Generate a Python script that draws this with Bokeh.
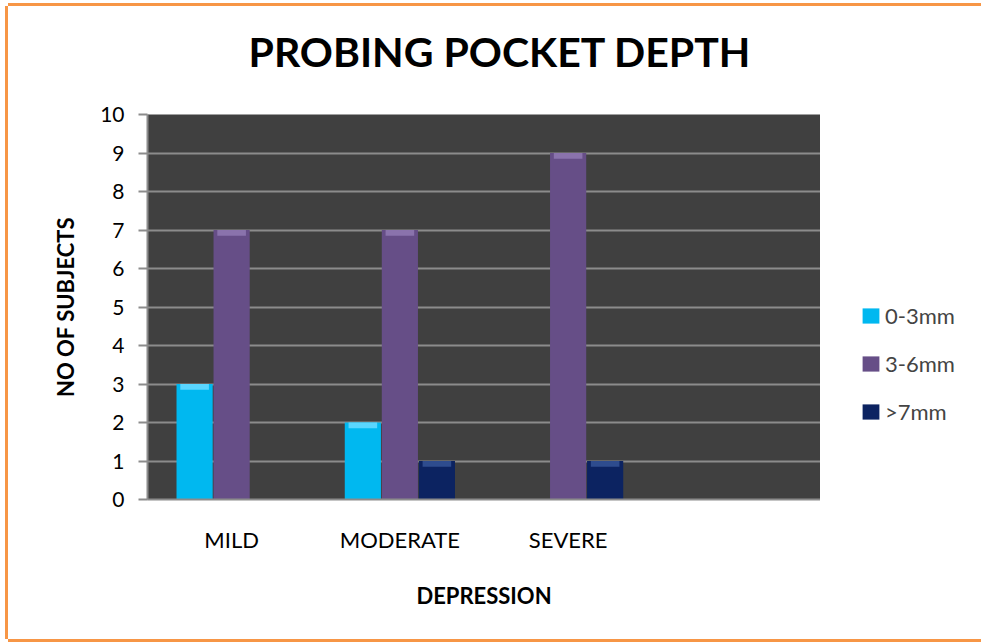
from bokeh.plotting import figure
from bokeh.models import FactorRange, Range1d, FixedTicker, Legend, LegendItem, ColumnDataSource, Title
from bokeh.layouts import row
from bokeh.transform import dodge
from bokeh.embed import file_html
from bokeh.resources import INLINE

categories = ["MILD", "MODERATE", "SEVERE"]
series = ["0-3mm", "3-6mm", ">7mm"]
v_0_3mm = [3, 2, 0]
v_3_6mm = [7, 7, 9]
v_7mm = [0, 1, 1]
colors = ["#00B8F0", "#664E87", "#0C2361"]
bevel_colors = ["#5AD6FF", "#8A73AC", "#2E4C8E"]
y_ticks = [0, 1, 2, 3, 4, 5, 6, 7, 8, 9, 10]

FONT = "Lato"
factors = categories + [" "]
BEVEL = 0.15  # depth of the lighter top facet, in axis units

p = figure(width=812, height=633, x_range=FactorRange(factors=factors), y_range=Range1d(0, 10),
           output_backend="svg", toolbar_location=None,
           min_border_left=139, min_border_right=0, min_border_top=108, min_border_bottom=140)

data = dict(cat=categories, a=v_0_3mm, b=v_3_6mm, c=v_7mm)
for k, vals in (("a", v_0_3mm), ("b", v_3_6mm), ("c", v_7mm)):
    data[k + "_bev"] = [v - BEVEL if v > 0 else 0 for v in vals]
src = ColumnDataSource(data)
offsets = [-0.22, 0.0, 0.22]
for key, off, col, bcol in zip(["a", "b", "c"], offsets, colors, bevel_colors):
    p.vbar(x=dodge("cat", off, range=p.x_range), top=key, width=0.215, source=src,
           fill_color=col, line_color=None)
    p.vbar(x=dodge("cat", off, range=p.x_range), top=key, bottom=key + "_bev", width=0.17,
           source=src, fill_color=bcol, line_color=None)

p.background_fill_color = "#404040"
p.border_fill_color = "white"
p.outline_line_color = None
p.xgrid.grid_line_color = None
p.ygrid.grid_line_color = "#8C8C8C"
p.ygrid.grid_line_width = 2

# spacer between plot area and title (placed nearest the frame)
p.add_layout(Title(text=" ", text_font_size="10px", standoff=21), "above")

p.title.text = "PROBING POCKET DEPTH"
p.title.align = "left"
p.title.offset = 101
p.title.standoff = 10
p.title.text_font = FONT
p.title.text_font_style = "bold"
p.title.text_font_size = "41px"
p.title.text_color = "black"

p.yaxis.ticker = FixedTicker(ticks=y_ticks)
p.yaxis.axis_line_color = "#8C8C8C"
p.yaxis.axis_line_width = 2
p.yaxis.major_tick_line_color = "#8C8C8C"
p.yaxis.major_tick_line_width = 2
p.yaxis.major_tick_out = 9
p.yaxis.major_tick_in = 0
p.yaxis.minor_tick_line_color = None
p.yaxis.major_label_standoff = 14
p.yaxis.major_label_text_font = FONT
p.yaxis.major_label_text_font_size = "21px"
p.yaxis.major_label_text_color = "black"
p.yaxis.axis_label = "NO OF SUBJECTS"
p.yaxis.axis_label_text_font = FONT
p.yaxis.axis_label_text_font_style = "bold"
p.yaxis.axis_label_text_font_size = "22px"
p.yaxis.axis_label_text_color = "black"
p.yaxis.axis_label_standoff = 18

p.xaxis.axis_line_color = "#8C8C8C"
p.xaxis.axis_line_width = 2
p.xaxis.major_tick_line_color = None
p.xaxis.major_tick_out = 0
p.xaxis.major_tick_in = 0
p.xaxis.major_label_standoff = 26
p.xaxis.major_label_text_font = FONT
p.xaxis.major_label_text_font_size = "22px"
p.xaxis.major_label_text_color = "black"
p.xaxis.axis_label = "DEPRESSION"
p.xaxis.axis_label_text_font = FONT
p.xaxis.axis_label_text_font_style = "bold"
p.xaxis.axis_label_text_font_size = "22px"
p.xaxis.axis_label_text_color = "black"
p.xaxis.axis_label_standoff = 26

# legend panel: hidden copies of the series supply the legend swatches
q = figure(width=161, height=633, x_range=FactorRange(factors=factors), y_range=Range1d(0, 10),
           output_backend="svg", toolbar_location=None,
           x_axis_location=None, y_axis_location=None,
           min_border_left=0, min_border_right=0, min_border_top=0, min_border_bottom=0)
q.grid.grid_line_color = None
q.outline_line_color = None
q.background_fill_color = "white"
q.border_fill_color = "white"
proxies = []
for key, off, col in zip(["a", "b", "c"], offsets, colors):
    r = q.vbar(x=dodge("cat", off, range=q.x_range), top=key, width=0.215, source=src,
               fill_color=col, line_color=None)
    r.visible = False
    proxies.append(r)

legend = Legend(items=[LegendItem(label=s, renderers=[r]) for s, r in zip(series, proxies)],
                location=(40, 74), padding=0, margin=0, spacing=20,
                glyph_width=21, glyph_height=19, label_height=28, label_standoff=4,
                label_text_font=FONT, label_text_font_size="22px",
                inactive_fill_alpha=0, click_policy="none",
                background_fill_alpha=0, border_line_color=None)
q.add_layout(legend)

layout = row(p, q)
layout.styles = {"margin-left": "8px", "margin-top": "6px",
                 "box-shadow": "-3px 0 0 0 #F79646, 0 -3px 0 0 #F79646, 0 3px 0 0 #F79646"}

open("out.html", "w").write(file_html(layout, INLINE))
